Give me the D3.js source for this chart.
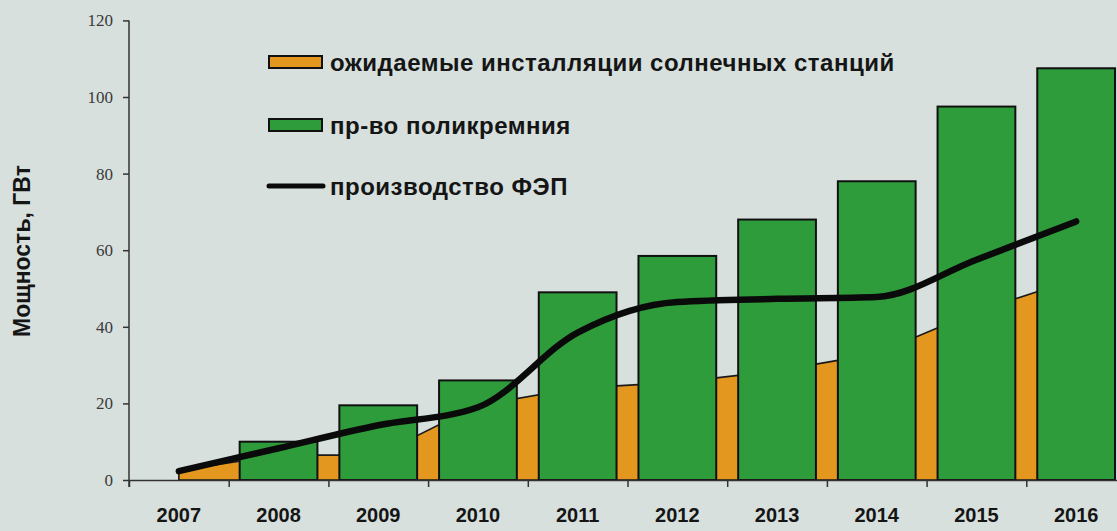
<!DOCTYPE html>
<html>
<head>
<meta charset="utf-8">
<script src="https://cdn.jsdelivr.net/npm/d3@7"></script>
<style>
  html, body { margin: 0; padding: 0; background: #d6dfdc; }
  svg { display: block; }
</style>
</head>
<body>
<svg id="chart" width="1117" height="531"></svg>
<script>
// Years on the horizontal axis
const years = ["2007", "2008", "2009", "2010", "2011", "2012", "2013", "2014", "2015", "2016"];
// Expected solar installations, GW
const installations = [2.5, 6.5, 6.5, 19.5, 24, 25.5, 28.5, 33, 44, 52.5];
// Polysilicon production, GW (no bar for 2007)
const polysilicon = [null, 10, 19.5, 26, 49, 58.5, 68, 78, 97.5, 107.5];
// PV cell production, GW
const cells = [2.3, 8.3, 14.3, 19, 38.5, 46.5, 47.3, 47.8, 57.5, 67.5];
// Vertical axis ticks
const yTicks = [0, 20, 40, 60, 80, 100, 120];

const legendItems = [
  { label: "ожидаемые инсталляции солнечных станций", type: "rect", fill: "#e3971f" },
  { label: "пр-во поликремния", type: "rect", fill: "#2f9c3b" },
  { label: "производство ФЭП", type: "line" }
];

const svg = d3.select("#chart");
const W = 1117, H = 531;
svg.append("rect").attr("width", W).attr("height", H).attr("fill", "#d7e0dd");

const x0 = 129, bandW = 99.7;
// index scale: year i occupies [i, i+1]
const x = d3.scaleLinear().domain([0, years.length]).range([x0, x0 + bandW * years.length]);
const y = d3.scaleLinear().domain([0, 120]).range([480, 20.4]);

const barFrac = 0.78;

// Orange area of expected installations (behind the bars)
const instData = installations.map((v, i) => ({ i, v }));
const area = d3.area()
  .x(d => x(d.i + 0.5))
  .y0(y(0))
  .y1(d => y(d.v))
  .curve(d3.curveLinear);
svg.append("path")
  .datum(instData)
  .attr("d", area)
  .attr("fill", "#e3971f")
  .attr("stroke", "#1a1a1a")
  .attr("stroke-width", 1.6)
  .attr("stroke-linejoin", "round");

// Green polysilicon bars
const polyData = polysilicon.map((v, i) => ({ i, v })).filter(d => d.v != null);
svg.append("g").selectAll("rect")
  .data(polyData)
  .join("rect")
  .attr("x", d => x(d.i + 0.5 - barFrac / 2))
  .attr("width", d => x(barFrac) - x(0))
  .attr("y", d => y(d.v))
  .attr("height", d => y(0) - y(d.v))
  .attr("fill", "#2f9c3b")
  .attr("stroke", "#111")
  .attr("stroke-width", 2);

// X axis: baseline with ticks at year boundaries
const xAxis = d3.axisBottom(x)
  .tickValues(d3.range(0, years.length + 1))
  .tickFormat("")
  .tickSize(7)
  .tickSizeOuter(0);
const gx = svg.append("g").attr("transform", `translate(0,${y(0)})`).call(xAxis);
gx.select(".domain").attr("stroke", "#333").attr("stroke-width", 1.5);
gx.selectAll(".tick line").attr("stroke", "#333").attr("stroke-width", 1.5);

svg.append("g").selectAll("text")
  .data(years)
  .join("text")
  .attr("x", (d, i) => x(i + 0.5))
  .attr("y", 522)
  .attr("text-anchor", "middle")
  .attr("font-family", "Liberation Sans, Arial, sans-serif")
  .attr("font-weight", "bold")
  .attr("font-size", 20)
  .attr("fill", "#151515")
  .text(d => d);

// Y axis
const yAxis = d3.axisLeft(y).tickValues(yTicks).tickSize(6).tickSizeOuter(0).tickPadding(10);
const gy = svg.append("g").attr("transform", `translate(${x0},0)`).call(yAxis);
gy.select(".domain").attr("stroke", "#333").attr("stroke-width", 1.5);
gy.selectAll(".tick line").attr("stroke", "#333").attr("stroke-width", 1.5);
gy.selectAll(".tick text")
  .attr("font-family", "Liberation Serif, Times New Roman, serif")
  .attr("font-size", 17)
  .attr("fill", "#3a3a3a");
gy.select(".domain").attr("d", `M0,${y(120)}V${y(0) + 7}`);

// Y axis title
svg.append("text")
  .attr("transform", `translate(30,251) rotate(-90)`)
  .attr("text-anchor", "middle")
  .attr("font-family", "Liberation Sans, Arial, sans-serif")
  .attr("font-weight", "bold")
  .attr("font-size", 23)
  .attr("fill", "#151515")
  .text("Мощность, ГВт");

// PV cell production line
const line = d3.line()
  .x((d, i) => x(i + 0.5))
  .y(d => y(d))
  .curve(d3.curveMonotoneX);
svg.append("path")
  .datum(cells)
  .attr("d", line)
  .attr("fill", "none")
  .attr("stroke", "#0a0a0a")
  .attr("stroke-width", 6.5)
  .attr("stroke-linecap", "round");

// Legend
const legend = svg.append("g").attr("transform", "translate(269,0)");
const rowY = [62, 125, 186];
legendItems.forEach((it, k) => {
  const g = legend.append("g").attr("transform", `translate(0,${rowY[k]})`);
  if (it.type === "rect") {
    g.append("rect").attr("x", 0).attr("y", -6).attr("width", 53).attr("height", 12)
      .attr("fill", it.fill).attr("stroke", "#111").attr("stroke-width", 2);
  } else {
    g.append("line").attr("x1", 0).attr("x2", 54).attr("y1", 0).attr("y2", 0)
      .attr("stroke", "#0a0a0a").attr("stroke-width", 5).attr("stroke-linecap", "round");
  }
  g.append("text")
    .attr("x", 61).attr("y", 9)
    .attr("font-family", "Liberation Sans, Arial, sans-serif")
    .attr("font-weight", "bold")
    .attr("font-size", 24)
    .attr("letter-spacing", 0.5)
    .attr("fill", "#151515")
    .text(it.label);
});
</script>
</body>
</html>
